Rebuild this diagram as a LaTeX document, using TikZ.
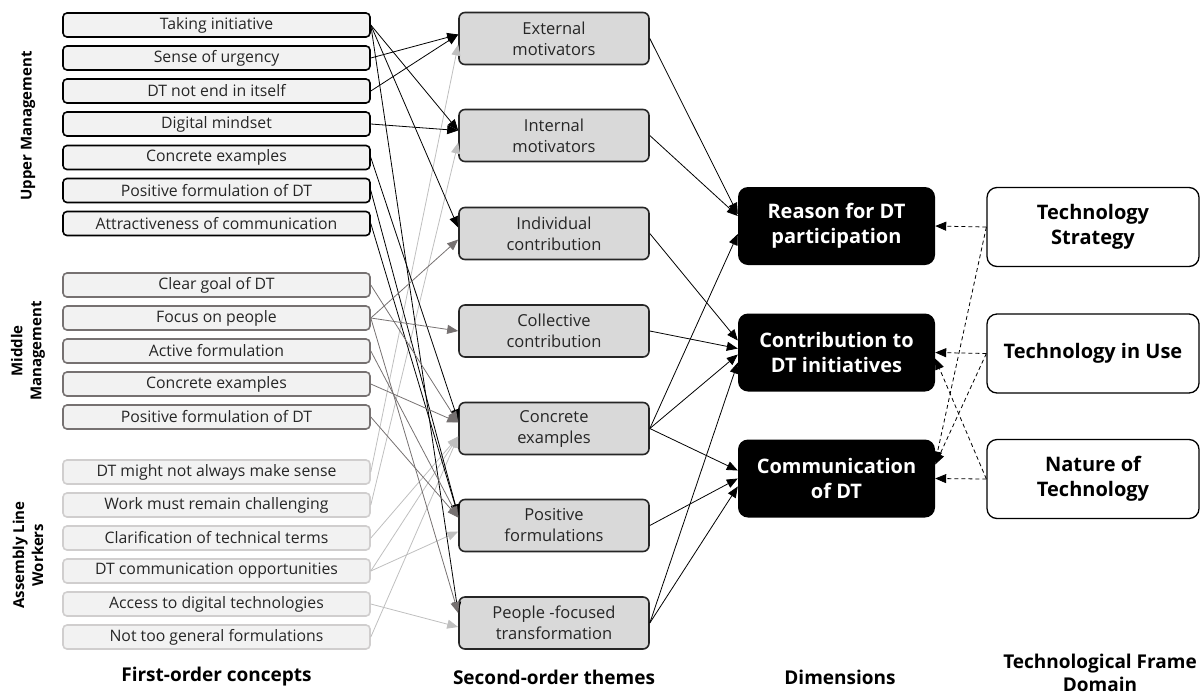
\documentclass[tikz,border=0pt]{standalone}
\usepackage{fontspec}
\setmainfont{Open Sans}
\usetikzlibrary{arrows.meta,calc}
\definecolor{boxfill}{HTML}{F2F2F2}
\definecolor{midfill}{HTML}{D9D9D9}
\definecolor{mmcol}{HTML}{767171}
\definecolor{alcol}{HTML}{BFBFBF}
\definecolor{albord}{HTML}{D0CECE}
\definecolor{darkb}{HTML}{262626}
\begin{document}
\begin{tikzpicture}[x=1pt,y=-1pt,
  fo/.style={draw, rounded corners=4pt, fill=boxfill, minimum width=307pt, minimum height=24pt, line width=1.6pt, inner sep=0pt, text=darkb, font=\fontsize{15.8}{18}\selectfont},
  um/.style={fo, draw=black},
  mm/.style={fo, draw=mmcol},
  al/.style={fo, draw=albord},
  so/.style={draw=darkb, fill=midfill, rounded corners=6pt, minimum width=190pt, minimum height=52pt, line width=1.6pt, align=center, inner sep=0pt, text=darkb, font=\fontsize{16.5}{21}\selectfont},
  dim/.style={fill=black, rounded corners=10pt, minimum width=197pt, minimum height=78pt, text=white, align=center, inner sep=0pt, font=\bfseries\fontsize{20}{25}\selectfont},
  tf/.style={draw=black, fill=white, rounded corners=10pt, minimum width=212pt, minimum height=79pt, line width=1.3pt, align=center, inner sep=0pt, font=\bfseries\fontsize{20}{25}\selectfont},
  hdr/.style={align=center, font=\bfseries\fontsize{19}{23}\selectfont},
  side/.style={align=center, rotate=90, font=\bfseries\fontsize{15}{19}\selectfont},
  ab/.style={-{Triangle[length=11pt,width=9pt]}, line width=0.8pt, black},
  am/.style={-{Triangle[length=11pt,width=9pt]}, line width=0.8pt, mmcol},
  al2/.style={-{Triangle[length=11pt,width=9pt]}, line width=0.8pt, alcol},
  ad/.style={-{Triangle[length=11pt,width=9pt]}, line width=0.8pt, black},
  ads/.style={-{Triangle[length=11pt,width=9pt]}, line width=0.8pt, black, dash pattern=on 4pt off 3pt}
]
\useasboundingbox (0,0) rectangle (1201,694);
% first-order concepts
\node[um] (ti)  at (216.5,25)  {Taking initiative};
\node[um] (su)  at (216.5,58)  {Sense of urgency};
\node[um] (dte) at (216.5,91)  {DT not end in itself};
\node[um] (dm)  at (216.5,124) {Digital mindset};
\node[um] (ce1) at (216.5,157.5) {Concrete examples};
\node[um] (pf1) at (216.5,190.5) {Positive formulation of DT};
\node[um] (att) at (216.5,223.5) {Attractiveness of communication};
\node[mm] (cg)  at (216.5,285)  {Clear goal of DT};
\node[mm] (fop) at (216.5,318)  {Focus on people};
\node[mm] (af)  at (216.5,351)  {Active formulation};
\node[mm] (ce2) at (216.5,384)  {Concrete examples};
\node[mm] (pf2) at (216.5,417)  {Positive formulation of DT};
\node[al] (dtm) at (216.5,472)  {DT might not always make sense};
\node[al] (wmr) at (216.5,505)  {Work must remain challenging};
\node[al] (clar) at (216.5,538) {Clarification of technical terms};
\node[al] (dtc) at (216.5,571)  {DT communication opportunities};
\node[al] (acc) at (216.5,604)  {Access to digital technologies};
\node[al] (ntg) at (216.5,637)  {Not too general formulations};
% side labels
\node[side] (lum) at (28,126) {Upper Management};
\node[side] (lmm) at (28,351) {Middle\\Management};
\node[side] (lal) at (28,555) {Assembly Line\\Workers};
% second-order themes
\node[so] (extm)  at (554,38.5)  {External\\motivators};
\node[so] (intm)  at (554,135.5) {Internal\\motivators};
\node[so] (indiv) at (554,233.5) {Individual\\contribution};
\node[so] (coll)  at (554,331)   {Collective\\contribution};
\node[so] (conc)  at (554,428.5) {Concrete\\examples};
\node[so] (posf)  at (554,525.5) {Positive\\formulations};
\node[so] (people) at (554,623)  {People -focused\\transformation};
% dimensions
\node[dim] (reason) at (836.5,226)   {Reason for DT\\participation};
\node[dim] (contr)  at (836.5,352.5) {Contribution to\\DT initiatives};
\node[dim] (comm)   at (836.5,478.5) {Communication\\of DT};
% technological frame domain
\node[tf] (ts)  at (1093,227)   {Technology\\Strategy};
\node[tf] (tiu) at (1093,353.5) {Technology in Use};
\node[tf] (not) at (1093,479)   {Nature of\\Technology};
% headers
\node[hdr] (h1) at (216.5,677) {First-order concepts};
\node[hdr] (h2) at (554,677) {Second-order themes};
\node[hdr] (h3) at (840,677) {Dimensions};
\node[hdr] (h4) at (1100,673) {Technological Frame\\Domain};
% first -> second order (light gray)
\draw[al2] (dtm.east) -- ($(extm.west)+(0,6)$);
\draw[al2] (wmr.east) -- ($(intm.west)+(0,7)$);
\draw[al2] (clar.east) -- ($(conc.west)+(0,8)$);
\draw[al2] (dtc.east) -- ($(conc.west)+(0,8)$);
\draw[al2] (ntg.east) -- ($(conc.west)+(0,8)$);
\draw[al2] (dtc.east) -- ($(posf.west)+(0,6)$);
\draw[al2] (acc.east) -- ($(people.west)+(0,4)$);
% upper management
\draw[ab] (ti.east) -- ($(intm.west)+(0,-5)$);
\draw[ab] (ti.east) -- ($(indiv.west)+(0,-6)$);
\draw[ab] (ti.east) -- ($(people.west)+(0,-10)$);
\draw[ab] (su.east) -- ($(extm.west)+(0,-4)$);
\draw[ab] (dte.east) -- ($(extm.west)+(0,-4)$);
\draw[ab] (dm.east) -- ($(intm.west)+(0,-5)$);
\draw[ab] (ce1.east) -- ($(conc.west)+(0,-8)$);
\draw[ab] (pf1.east) -- ($(posf.west)+(0,-10)$);
\draw[ab] (att.east) -- ($(posf.west)+(0,-10)$);
% middle management
\draw[am] (fop.east) -- ($(indiv.west)+(0,6)$);
\draw[am] (fop.east) -- (coll.west);
\draw[am] (fop.east) -- ($(people.west)+(0,-10)$);
\draw[am] (cg.east) -- ($(conc.west)+(0,-6)$);
\draw[am] (af.east) -- ($(posf.west)+(0,-8)$);
\draw[am] (ce2.east) -- ($(conc.west)+(0,-6)$);
\draw[am] (pf2.east) -- ($(posf.west)+(0,-8)$);
% second order -> dimensions
\draw[ad] (extm.east) -- ($(reason.west)+(0,-12)$);
\draw[ad] (intm.east) -- ($(reason.west)+(0,-10)$);
\draw[ad] (conc.east) -- ($(reason.west)+(0,8)$);
\draw[ad] (indiv.east) -- ($(contr.west)+(0,-12)$);
\draw[ad] (coll.east) -- ($(contr.west)+(0,-4)$);
\draw[ad] (conc.east) -- ($(contr.west)+(0,2)$);
\draw[ad] (people.east) -- ($(contr.west)+(0,10)$);
\draw[ad] (conc.east) -- ($(comm.west)+(0,-8)$);
\draw[ad] (posf.east) -- (comm.west);
\draw[ad] (people.east) -- ($(comm.west)+(0,8)$);
% technological frame -> dimensions
\draw[ads] (ts.west) -- (reason.east);
\draw[ads] (tiu.west) -- (contr.east);
\draw[ads] (not.west) -- (comm.east);
\draw[ads] (ts.west) -- ($(comm.east)+(0,-16)$);
\draw[ads] (tiu.west) -- ($(comm.east)+(0,-14)$);
\draw[ads] (not.west) -- ($(contr.east)+(0,6)$);
\end{tikzpicture}
\end{document}
